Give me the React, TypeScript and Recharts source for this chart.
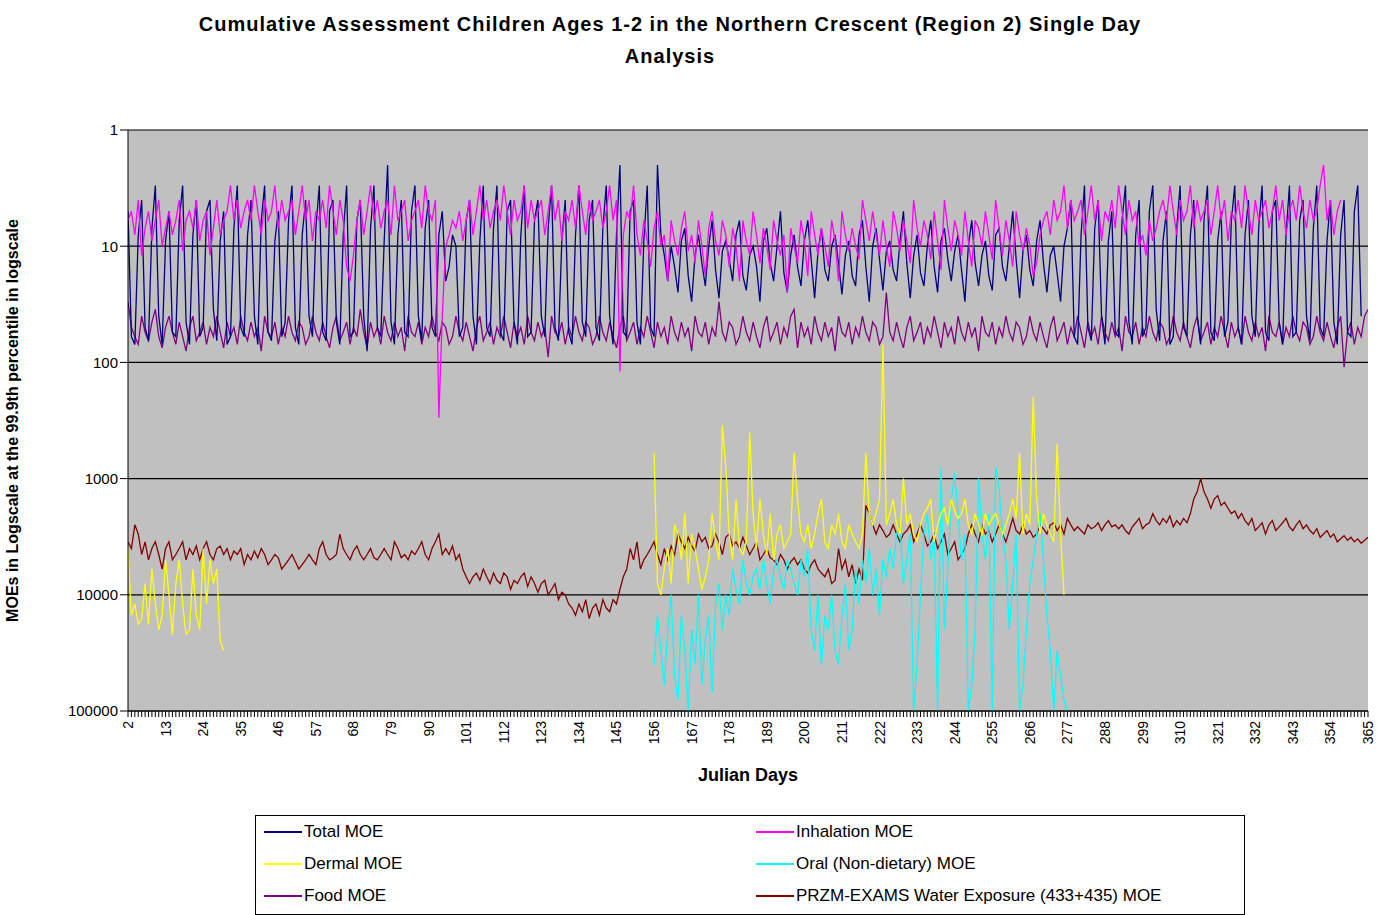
import React from "react";
import { LineChart, Line, XAxis, YAxis, CartesianGrid, Label } from "recharts";

const totalMOE = [5,60,70,8,4,50,65,7,3,40,70,9,5,55,60,6,3,45,70,8,4,60,50,5,4,35,65,9,5,70,60,7,3,50,60,8,4,40,70,6,3,55,65,9,5,60,45,6,3,50,70,8,4,40,60,7,3,55,65,5,4,45,70,8,3,60,55,6,4,40,80,7,3,50,60,9,2,45,70,8,4,55,60,5,3,40,65,7,4,50,60,8,5,20,15,8,10,60,50,6,4,40,70,9,3,50,60,7,3,55,65,5,4,45,70,8,3,60,55,6,4,40,60,7,3,50,65,9,4,55,70,8,3,45,60,6,4,50,65,7,3,40,70,8,2,55,60,5,4,45,70,9,3,50,60,2,
8,12,20,10,15,25,9,7,18,30,12,8,14,22,10,6,16,28,11,9,13,20,8,6,18,24,12,10,15,30,9,7,14,20,10,5,17,25,12,8,15,22,9,6,13,28,11,7,16,20,10,8,14,26,12,9,18,22,8,6,15,30,10,7,13,24,11,9,16,20,9,5,14,28,12,8,17,22,10,6,15,25,9,7,13,20,11,8,16,30,10,6,14,22,12,9,18,24,8,7,15,20,10,5,13,28,11,8,16,22,9,6,14,25,12,10,17,30,10,7,
4,60,70,8,3,50,65,7,4,40,70,9,5,55,60,6,3,45,70,8,4,60,50,5,3,35,65,9,5,70,60,7,3,50,60,8,4,40,70,6,3,55,65,9,5,60,45,6,3,50,70,8,4,40,60,7,3,55,65,5,4,45,70,8,3,60,55,6,4,40,65,7,3,50,60,9,4,45,70,8,4,55,60,5,3,40];
const inhalationMOE = [6,5,8,4,12,7,5,9,6,4,10,7,5,8,6,4,11,6,5,7,4,9,6,5,12,7,4,8,6,5,3,6,4,7,5,4,6,3,5,8,4,6,5,3,7,4,6,5,4,8,5,3,6,4,9,5,6,4,7,3,5,8,4,6,15,20,12,6,4,8,5,3,6,4,7,5,4,8,3,6,5,4,9,6,5,4,7,3,5,6,4,300,40,10,8,6,7,5,9,6,4,8,5,3,6,4,7,5,4,6,3,5,8,4,6,5,3,7,4,6,5,4,8,5,3,6,4,9,5,6,4,7,3,5,8,4,6,5,4,7,5,3,6,4,120,8,5,6,3,
8,12,6,9,15,7,5,10,8,20,6,9,12,7,5,11,8,14,6,10,18,7,5,9,12,6,8,15,7,10,20,6,9,12,5,8,14,7,10,16,6,9,12,8,25,7,10,14,6,9,18,5,8,12,7,10,15,6,9,20,5,8,11,7,10,13,4,6,9,5,8,12,6,10,15,5,7,11,6,9,14,4,7,10,6,8,13,5,9,16,4,7,11,6,8,12,5,9,15,6,7,10,5,8,13,4,7,12,6,9,15,5,8,11,7,10,18,14,8,6,
5,8,4,6,5,3,7,4,6,5,4,8,5,3,6,4,9,5,6,4,7,3,5,8,4,6,5,10,8,12,6,9,7,5,4,6,3,5,8,4,6,5,3,7,4,6,5,4,8,5,3,6,4,9,5,6,4,7,3,5,8,4,6,5,4,7,5,3,6,4,8,5,4,6,3,5,7,4,6,5,3,2,6,4,8,5,4];
const foodMOE = [30,50,60,70,40,55,65,45,35,60,75,50,40,55,70,45,60,80,50,40,65,55,45,70,50,60,40,55,75,45,60,50,70,40,55,65,45,60,50,80,40,55,60,45,70,50,60,40,55,65,45,50,70,60,40,55,65,45,60,75,50,40,65,55,45,70,50,60,35,55,75,45,60,50,70,40,55,65,45,60,50,80,40,55,60,45,70,50,60,40,55,65,45,50,70,60,40,55,65,45,60,80,50,40,65,55,45,70,50,60,40,55,75,45,60,50,70,40,55,65,45,60,50,90,40,55,60,45,70,50,60,40,55,65,45,50,70,60,40,55,65,45,60,75,50,40,65,55,45,70,50,60,40,55,75,
45,60,50,70,40,55,65,45,60,50,80,40,55,60,45,70,50,60,30,55,65,45,50,70,60,40,55,65,45,60,75,50,40,65,55,45,70,50,60,40,35,75,45,60,50,70,40,55,65,45,60,50,80,40,55,60,45,70,50,60,40,55,65,45,50,70,60,25,55,65,45,60,75,50,40,65,55,45,70,50,60,40,55,75,45,60,50,70,40,55,65,45,60,50,80,40,55,60,45,70,50,60,40,55,65,45,50,70,60,40,55,65,45,60,75,50,40,65,55,45,
70,50,60,40,55,75,45,60,50,70,40,55,65,45,60,50,80,40,55,60,45,70,50,60,40,55,65,45,50,70,60,40,55,65,45,60,75,50,40,65,55,45,70,50,60,40,55,75,45,60,50,70,40,55,65,45,60,50,80,40,55,60,45,70,50,60,40,55,65,45,50,70,60,40,55,65,45,60,75,50,40,110,55,45,70,50,60,40,35,75];
const waterMOE = [3500,4000,2500,3000,4500,3500,5000,4000,3500,4500,6000,4000,3500,5000,4500,4000,3500,5000,4000,4500,3800,5000,4000,3500,4500,5000,4000,3800,4500,4000,5000,4200,4500,4000,5500,4500,5000,4200,4800,4000,4500,5500,5000,4500,4800,6000,5500,5000,4500,5200,6000,5500,5000,4500,5000,5500,4000,3500,4500,5000,4800,4500,3000,4000,4500,5000,4200,3800,4500,5000,4500,4000,4800,5000,4500,4000,4500,5000,3500,4000,4800,4500,5000,4200,4500,4000,3500,4500,5000,4000,3500,3000,4500,4000,4500,3800,5000,4500,6000,7000,8000,7000,6500,7500,6000,7000,8000,6500,7500,8000,6500,7000,9000,7500,8000,7000,6500,8500,7000,8000,9500,8000,7500,10000,9000,8000,11000,9500,10000,12000,13000,15000,12000,14000,11000,16000,13000,12000,15000,11000,13000,14000,11000,12000,9000,7000,6000,
4000,5000,3500,6000,5000,4500,4000,3500,4500,5500,4000,5000,3800,4500,3000,3500,4000,3200,3800,4200,3000,3500,3200,4000,3800,3000,3500,4500,3200,3000,3800,3500,4000,3200,3800,4500,4000,3500,5000,4500,4000,4800,5000,5500,4500,5000,6000,5200,4800,5500,5000,6000,6500,5500,5000,6000,6500,7000,6000,8000,7500,4000,6000,5000,7000,5500,8000,6000,7500,1700,2000,2500,3000,2500,2800,3200,3000,2500,3000,3500,3000,2800,2500,3500,3000,2500,3000,3800,3500,3000,4000,3500,3000,4500,4000,3500,5000,4500,4000,3000,2500,3000,3500,2500,3000,2800,3500,3000,2500,3000,3500,2800,2200,2800,3000,2500,3000,2800,3200,3000,2500,2700,3000,2500,2400,2800,2500,3000,2200,2500,2800,2600,
2800,3000,2500,2700,2600,2400,2800,2500,2300,2600,2500,2700,2500,2800,3000,2600,2400,2200,2700,2500,2400,2000,2300,2500,2200,2400,2100,2600,2300,2500,2200,2400,2000,1500,1300,1000,1300,1500,1800,1500,1400,1700,1600,1800,2000,1900,2200,2000,2300,2500,2200,2800,2600,2400,3000,2500,2300,2800,2600,2400,2200,2600,2800,2500,2300,2700,2500,2800,3000,2700,3200,3000,2800,3200,3000,3500,3300,3100,3400,3200,3500,3300,3600,3400,3200,3500,3400,3700];
const dermalEarly = [4000,15000,12000,18000,16000,8000,18000,6000,12000,20000,15000,5000,10000,22000,8000,5000,12000,22000,20000,6000,15000,20000,4000,12000,5000,8000,6000,25000,30000];
const dermalLate = [600,8000,10000,6000,4000,8000,2500,3000,5000,2000,8000,3000,4000,6000,9000,7000,5000,2000,3500,5000,350,800,3000,5000,1500,4000,4500,3500,400,2000,4000,1500,3000,4500,2000,5000,3000,2500,4000,3500,3000,600,1500,3000,3500,2500,4000,3000,2000,1500,3500,4000,2500,3000,2000,3500,4000,2500,3000,3500,4000,3000,600,2000,2500,2000,1500,70,2500,2000,1500,2500,3000,1000,2500,2000,3000,3500,2500,2000,1800,1500,3500,2500,2000,1800,2500,1500,1900,2200,2000,1500,2500,3000,2000,2500,3000,2000,2500,2200,2000,2500,3000,2500,2000,1500,2200,600,3000,2000,2500,200,1500,3000,2000,2500,3000,3500,500,3000,10000];
const oralMOE = [40000,15000,30000,60000,20000,10000,50000,80000,15000,30000,100000,20000,40000,10000,60000,25000,15000,70000,12000,8000,20000,10000,15000,6000,9000,12000,5000,8000,10000,7000,6000,9000,5000,8000,12000,6000,5000,7000,9000,5000,6000,8000,10000,5000,7000,4000,20000,30000,10000,40000,15000,20000,10000,30000,40000,15000,8000,30000,20000,6000,12000,5000,8000,4000,10000,6000,15000,5000,7000,4000,6000,3000,2500,8000,5000,3000,100000,40000,10000,3000,2000,5000,3000,100000,800,20000,6000,1500,900,2000,5000,3000,100000,60000,20000,1000,3000,5000,2000,100000,800,1200,3000,5000,20000,8000,3000,100000,60000,20000,8000,5000,3000,2000,5000,15000,30000,100000,30000,50000,80000,100000];

const allDays = Array.from({ length: 364 }, (_, i) => 2 + i);
const yTicks = [1, 10, 100, 1000, 10000, 100000];

const data = allDays.map((day, i) => ({
  day,
  total: totalMOE[i] ?? null,
  inhal: inhalationMOE[i] ?? null,
  food: foodMOE[i] ?? null,
  water: waterMOE[i] ?? null,
  dermal: day <= 30 ? dermalEarly[i] ?? null : day >= 156 ? dermalLate[day - 156] ?? null : null,
  oral: day >= 156 ? oralMOE[day - 156] ?? null : null,
}));

const legendItems = [
  ["Total MOE", "#000080"],
  ["Inhalation MOE", "#ff00ff"],
  ["Dermal MOE", "#ffff00"],
  ["Oral (Non-dietary) MOE", "#00ffff"],
  ["Food MOE", "#800080"],
  ["PRZM-EXAMS Water Exposure (433+435) MOE", "#800000"],
];

const XTick = (props: any) => {
  const { x, y, payload } = props;
  const show = (payload.value - 2) % 11 === 0;
  return (
    <g>
      <line x1={x} x2={x} y1={y - 8} y2={y - 2} stroke="#000" />
      {show && (
        <text x={x + 5} y={y + 2} transform={`rotate(-90 ${x + 5} ${y + 2})`} textAnchor="end" fontSize={14} fill="#000">
          {payload.value}
        </text>
      )}
    </g>
  );
};

const LegendBox = () => (
  <div style={{ position: "absolute", left: 255, top: 815, width: 988, height: 98, border: "1px solid #000", background: "#fff", fontFamily: "Arial, 'Liberation Sans', sans-serif", fontSize: 17 }}>
    {legendItems.map(([name, color], i) => (
      <div key={name} style={{ position: "absolute", left: i % 2 === 0 ? 8 : 500, top: 6 + Math.floor(i / 2) * 32, display: "flex", alignItems: "center" }}>
        <span style={{ display: "inline-block", width: 38, height: 2, background: color, marginRight: 2 }} />
        <span>{name}</span>
      </div>
    ))}
  </div>
);

export default function App() {
  return (
    <div style={{ position: "absolute", left: 0, top: 0, width: 1378, height: 915, background: "#fff", fontFamily: "Arial, 'Liberation Sans', sans-serif" }}>
      <div style={{ position: "absolute", left: 0, top: 8, width: 1340, textAlign: "center", fontWeight: "bold", fontSize: 20, lineHeight: "32px", letterSpacing: 1 }}>
        Cumulative Assessment Children Ages 1-2 in the Northern Crescent (Region 2) Single Day
        <br />
        Analysis
      </div>
      <LineChart width={1378} height={800} data={data} margin={{ top: 130, right: 10, left: 0, bottom: 19 }}>
        <CartesianGrid vertical={false} stroke="#000" fill="#c0c0c0" strokeWidth={1.2} />
        <XAxis dataKey="day" type="number" domain={[2, 365]} ticks={allDays} interval={0} tick={<XTick />} tickLine={false} height={70} stroke="#000" allowDataOverflow>
          <Label value="Julian Days" position="insideBottom" offset={0} style={{ fontWeight: "bold", fontSize: 18, fill: "#000" }} />
        </XAxis>
        <YAxis scale="log" domain={[1, 100000]} reversed ticks={yTicks} width={128} stroke="#000" tick={{ fill: "#000", fontSize: 15 }} tickSize={8} allowDataOverflow>
          <Label value="MOEs in Logscale at the 99.9th percentile in logscale" angle={-90} position="insideLeft" offset={12} style={{ textAnchor: "middle", fontWeight: "bold", fontSize: 16, fill: "#000" }} />
        </YAxis>
        <Line dataKey="water" stroke="#800000" dot={false} strokeWidth={1.3} isAnimationActive={false} />
        <Line dataKey="oral" stroke="#00ffff" dot={false} strokeWidth={1.3} isAnimationActive={false} />
        <Line dataKey="dermal" stroke="#ffff00" dot={false} strokeWidth={1.3} isAnimationActive={false} />
        <Line dataKey="food" stroke="#800080" dot={false} strokeWidth={1.3} isAnimationActive={false} />
        <Line dataKey="total" stroke="#000080" dot={false} strokeWidth={1.3} isAnimationActive={false} />
        <Line dataKey="inhal" stroke="#ff00ff" dot={false} strokeWidth={1.3} isAnimationActive={false} />
      </LineChart>
      <LegendBox />
    </div>
  );
}
